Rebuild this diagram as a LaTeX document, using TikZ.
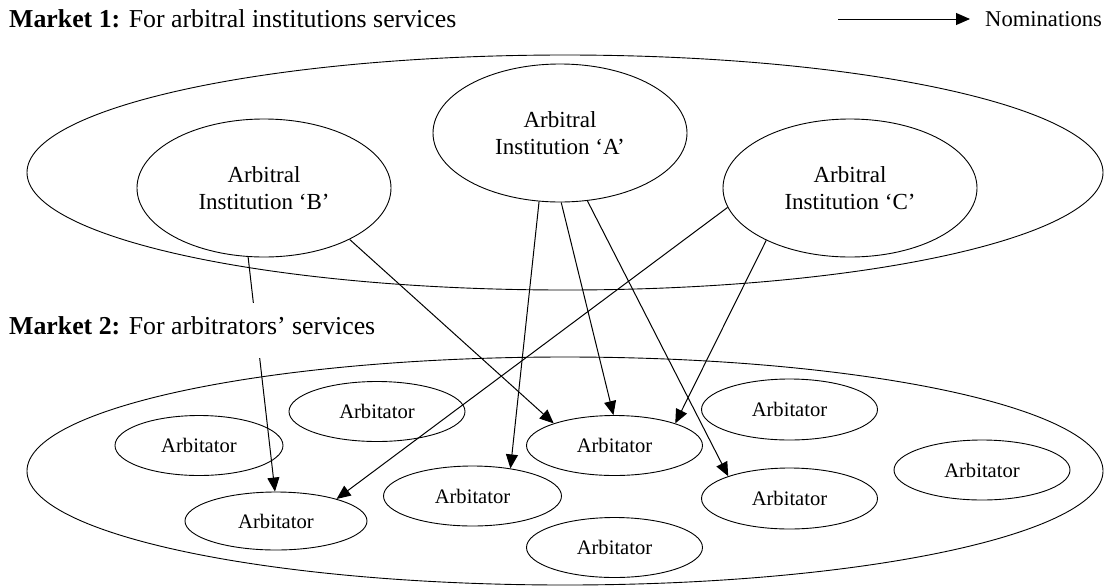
\documentclass[tikz,border=0pt]{standalone}
\usepackage{fontspec}
\setmainfont{Liberation Serif}
\usepackage{tikz}
\usetikzlibrary{arrows.meta,shapes.geometric}

\begin{document}
\begin{tikzpicture}[x=1pt, y=-1pt, >={Triangle[length=14pt,width=12pt]},
        market/.style={draw, ellipse, line width=0.9pt, inner sep=0pt, minimum width=1076pt},
        institution/.style={draw, ellipse, line width=0.9pt, inner sep=0pt, minimum width=254pt, minimum height=138pt, align=center, font=\fontsize{23}{26.7}\selectfont},
        arbitrator/.style={draw, ellipse, line width=0.9pt, inner sep=0pt, minimum width=176pt, minimum height=60pt, font=\fontsize{20.6}{24}\selectfont},
        heading/.style={anchor=base west, font=\fontsize{25.8}{30}\selectfont},
        nomination/.style={->, line width=1pt}]
        \useasboundingbox (0,0) rectangle (1110,587);

        % Headings and legend
        \node[heading, inner sep=0pt] (market1label) at (9,27) {\textbf{Market 1:} For arbitral institutions services};
        \coordinate (legstart) at (838,19);
        \coordinate (legend) at (970,19);
        \node[anchor=base west, inner sep=0pt, font=\fontsize{22.6}{26}\selectfont] (nomlabel) at (985,26) {Nominations};
        \draw[nomination] (legstart) -- (legend);

        % Market 1: arbitral institutions
        \node[market, minimum height=235pt] (market1) at (565,172.5) {};
        \node[institution] (A) at (560,133) {Arbitral\\Institution ‘A’};
        \node[institution] (B) at (264,188) {Arbitral\\Institution ‘B’};
        \node[institution] (C) at (850,188) {Arbitral\\Institution ‘C’};

        % Market 2: arbitrators
        \node[market, minimum height=228pt] (market2) at (565,471) {};
        \node[arbitrator] (arbtop) at (377,411.5) {Arbitator};
        \node[arbitrator, minimum width=168pt] (arbleft) at (199,445.5) {Arbitator};
        \node[arbitrator, minimum width=182pt, minimum height=58pt] (arbbl) at (276,521) {Arbitator};
        \node[arbitrator, minimum width=178pt] (arbcl) at (472.5,496) {Arbitator};
        \node[arbitrator] (arbmid) at (614.5,445.5) {Arbitator};
        \node[arbitrator] (arbbot) at (614.5,547.5) {Arbitator};
        \node[arbitrator, minimum height=61pt] (arbtr) at (789.5,409.5) {Arbitator};
        \node[arbitrator, minimum height=61pt] (arbrl) at (789.5,498.5) {Arbitator};
        \node[arbitrator] (arbfar) at (982,470) {Arbitator};

        % Nominations
        \draw[nomination] (B.-31) -- (arbmid.160);
        \draw[nomination] (B.-103) -- (arbbl.92);
        \draw[nomination] (A.-107) -- (arbcl.36);
        \draw[nomination] (A.-89) -- (arbmid.92);
        \draw[nomination] (A.-68) -- (arbrl.160);
        \draw[nomination] (C.-171) -- (arbbl.20);
        \draw[nomination] (C.-148) -- (arbmid.20);

        % Market 2 heading over the line from B
        \node[heading, fill=white, inner xsep=2pt, inner ysep=0pt, text height=31pt, text depth=24pt] (market2label) at (7,334) {\textbf{Market 2:} For arbitrators’ services};
    \end{tikzpicture}
\end{document}
